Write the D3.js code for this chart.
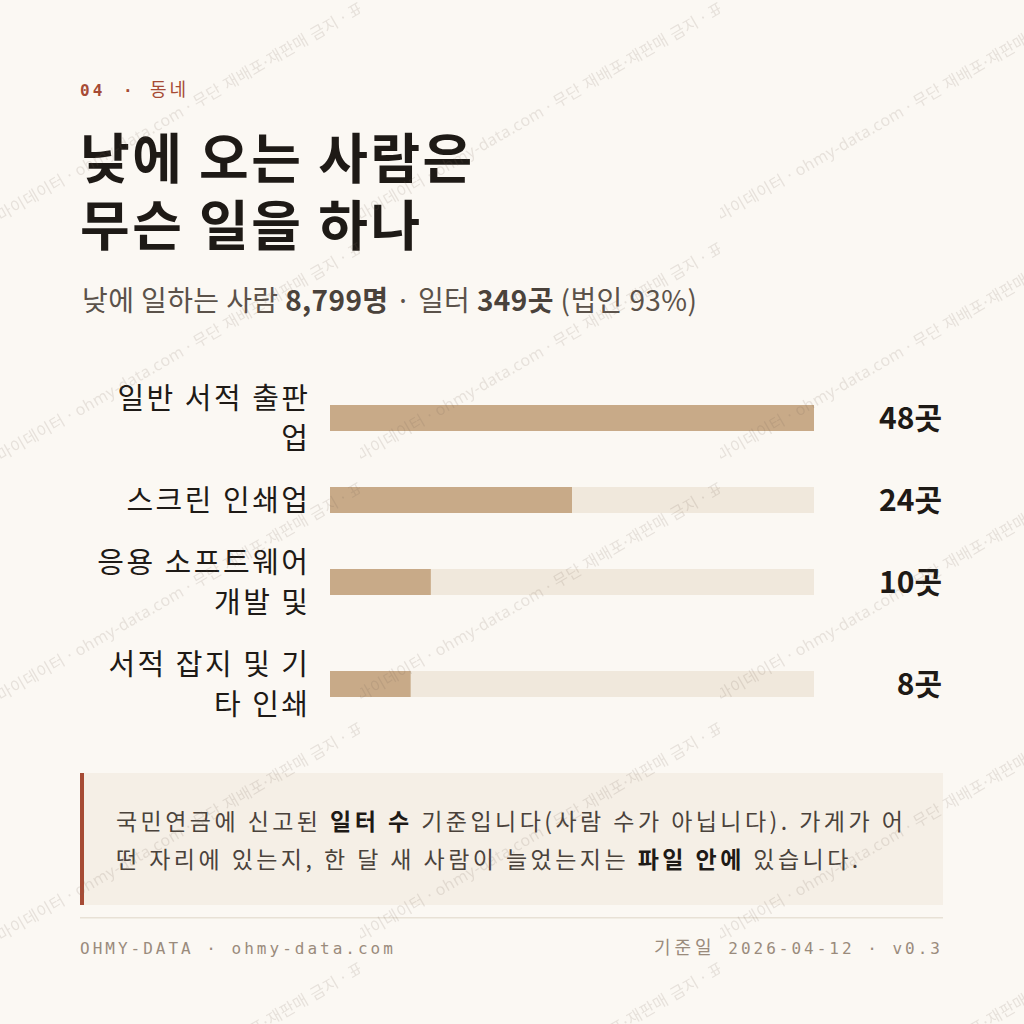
<!DOCTYPE html>
<html><head><meta charset="utf-8">
<script src="https://cdn.jsdelivr.net/npm/d3@7"></script>
<style>
html,body{margin:0;padding:0;background:#fbf8f3;}
svg{display:block;}
</style></head><body>
<svg id="chart" width="1024" height="1024"></svg>
<script>
// ---- data ----
const eyebrowNum = "04";
const eyebrowSection = "동네";
const titleLines = ["낮에 오는 사람은", "무슨 일을 하나"];
const subtitleParts = [["낮에 일하는 사람 ", false], ["8,799명", true], [" · 일터 ", false], ["349곳", true], [" (법인 93%)", false]];
const categories = ["일반 서적 출판업", "스크린 인쇄업", "응용 소프트웨어 개발 및", "서적 잡지 및 기타 인쇄"];
const values = [48, 24, 10, 8];
const valueUnit = "곳";
const noteLines = [
  [["국민연금에 신고된 ", false], ["일터 수", true], [" 기준입니다(사람 수가 아닙니다). 가게가 어", false]],
  [["떤 자리에 있는지, 한 달 새 사람이 늘었는지는 ", false], ["파일 안에", true], [" 있습니다.", false]]
];
const footerLeft = "OHMY-DATA · ohmy-data.com";
const footerRight = ["기준일", " 2026-04-12 · v0.3"];
const watermarkText = "오마이데이터 · ohmy-data.com · 무단 재배포·재판매 금지 · 표본";

// ---- style ----
const KR = "'Noto Sans CJK KR', 'Noto Sans', sans-serif";
const MONO = "'DejaVu Sans Mono', 'Liberation Mono', 'Noto Sans CJK KR', monospace";
const C = {bg:"#fbf8f3", bar:"#c8aa88", track:"#f0e8dc", note:"#f5efe6", accent:"#a64b35",
  ink:"#1e1a16", sub:"#5b524a", subBold:"#4a423b", foot:"#9a8b7c", rule:"#e8e1d6", noteInk:"#4a423b"};

const svg = d3.select("#chart");
svg.append("rect").attr("width",1024).attr("height",1024).attr("fill",C.bg);

// eyebrow
const eb = svg.append("text").attr("x",80).attr("y",96).attr("font-family",MONO)
  .attr("font-size",16).attr("fill",C.accent).attr("letter-spacing",3);
eb.append("tspan").attr("font-weight",700).text(eyebrowNum);
eb.append("tspan").attr("x",123).attr("font-weight",700).text("·");
eb.append("tspan").attr("x",150).attr("font-family",KR).attr("font-size",18).attr("letter-spacing",3).text(eyebrowSection);

// title (one text, two lines)
const tt = svg.append("text").attr("font-family",KR).attr("font-weight",700).attr("font-size",54)
  .attr("letter-spacing",2.5).attr("fill",C.ink);
tt.selectAll("tspan").data(titleLines).join("tspan")
  .attr("x",80).attr("y",(d,i)=>179+i*67).text(d=>d);

// subtitle
const st = svg.append("text").attr("x",82).attr("y",311).attr("font-family",KR)
  .attr("font-size",28).attr("letter-spacing",0.4).attr("fill",C.sub);
subtitleParts.forEach(([t,b])=>st.append("tspan").attr("font-weight",b?700:400)
  .attr("fill",b?C.subBold:C.sub).text(t));

// bars
const labelFont = 29, labelLS = 2.5, lineH = 40, rowGap = 22, rowTop = 378, labelRight = 308, labelMax = 220;
const x = d3.scaleLinear().domain([0, d3.max(values)]).range([330, 814]);
const barH = 26;

// measure for break-all wrapping
const meas = svg.append("text").attr("font-family",KR).attr("font-size",labelFont)
  .attr("letter-spacing",labelLS).attr("visibility","hidden");
function wrap(str){
  const lines=[]; let cur="";
  for(const ch of str){
    meas.text((cur+ch).trim());
    if(cur.trim().length && meas.node().getComputedTextLength()>labelMax){
      lines.push(cur.trim()); cur = ch===" " ? "" : ch;
    } else cur+=ch;
  }
  if(cur.trim().length) lines.push(cur.trim());
  return lines;
}
const rows = []; let yy = rowTop;
categories.forEach((c,i)=>{ const ls = wrap(c); const h = ls.length*lineH;
  rows.push({cat:c, v:values[i], lines:ls, top:yy, cy:yy+h/2}); yy += h+rowGap; });
meas.remove();

const g = svg.append("g");
const row = g.selectAll("g.row").data(rows).join("g").attr("class","row");
row.append("text").attr("font-family",KR).attr("font-size",labelFont).attr("fill",C.ink)
  .attr("letter-spacing",labelLS).attr("text-anchor","end")
  .each(function(d){ const t=d3.select(this);
    d.lines.forEach((l,j)=>t.append("tspan").attr("x",labelRight+labelLS)
      .attr("y", d.cy + (j-(d.lines.length-1)/2)*lineH + labelFont*0.37).text(l)); });
row.append("rect").attr("x",x(0)).attr("y",d=>d.cy-barH/2).attr("width",x(d3.max(values))-x(0))
  .attr("height",barH).attr("fill",C.track);
row.append("rect").attr("x",x(0)).attr("y",d=>d.cy-barH/2).attr("width",d=>x(d.v)-x(0))
  .attr("height",barH).attr("fill",C.bar);
row.append("text").attr("x",942).attr("y",d=>d.cy+11).attr("text-anchor","end")
  .attr("font-family",KR).attr("font-weight",700).attr("font-size",30).attr("fill",C.ink)
  .text(d=>d.v+valueUnit);

// note
svg.append("rect").attr("x",80).attr("y",773).attr("width",863).attr("height",132).attr("fill",C.note);
svg.append("rect").attr("x",80).attr("y",773).attr("width",4).attr("height",132).attr("fill",C.accent);
noteLines.forEach((parts,i)=>{
  const t = svg.append("text").attr("x",116).attr("y",830+i*38).attr("font-family",KR)
    .attr("font-size",23).attr("letter-spacing",3.45).attr("fill",C.noteInk);
  parts.forEach(([s,b])=>t.append("tspan").attr("font-weight",b?700:400).attr("fill",b?C.ink:C.noteInk).text(s));
});

// rule + footer
svg.append("rect").attr("x",80).attr("y",917).attr("width",863).attr("height",1.5).attr("fill",C.rule);
svg.append("text").attr("x",80).attr("y",954).attr("font-family",MONO).attr("font-size",16)
  .attr("letter-spacing",3).attr("fill",C.foot).text(footerLeft);
const fr = svg.append("text").attr("x",943).attr("y",954).attr("text-anchor","end").attr("font-family",MONO)
  .attr("font-size",16).attr("letter-spacing",3).attr("fill",C.foot);
fr.append("tspan").attr("font-family",KR).attr("font-size",18).attr("letter-spacing",4).text(footerRight[0]);
fr.append("tspan").text(footerRight[1]);

// watermark
const defs = svg.append("defs");
const pat = defs.append("pattern").attr("id","wm").attr("patternUnits","userSpaceOnUse")
  .attr("width",360).attr("height",240);
pat.append("text").attr("transform","translate(-12,229) rotate(-30)")
  .attr("font-family","'Noto Sans', 'Noto Sans CJK KR', sans-serif").attr("font-size",16)
  .attr("letter-spacing",0.4)
  .attr("fill","#6e5e50").attr("fill-opacity",0.15).text(watermarkText);
svg.append("rect").attr("width",1024).attr("height",1024).attr("fill","url(#wm)").attr("pointer-events","none");
</script>
</body></html>
